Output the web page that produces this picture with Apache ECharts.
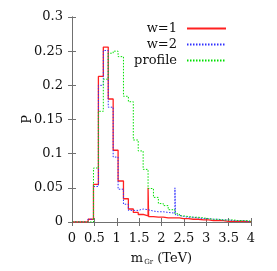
<!DOCTYPE html>
<html><head><meta charset="utf-8">
<script src="https://cdn.jsdelivr.net/npm/echarts@6/dist/echarts.min.js"></script>
<style>html,body{margin:0;padding:0;background:#fff}#c{width:277px;height:271px}</style>
</head><body><div id="c"></div>
<script>
// bin edges (TeV)
const binEdges = [0, 0.36, 0.48, 0.59, 0.70, 0.81, 0.92, 1.03, 1.15, 1.26, 1.37, 1.48, 1.59, 1.70, 1.82, 1.93, 2.04, 2.15, 2.30, 2.40, 2.49, 2.60, 2.71, 2.82, 2.94, 3.05, 3.16, 3.27, 3.38, 3.50, 3.61, 3.72, 3.83, 3.94, 4.0];
const w1Vals = [0, 0.004, 0.055, 0.213, 0.256, 0.180, 0.105, 0.060, 0.034, 0.019, 0.014, 0.011, 0.009, 0.008, 0.007, 0.007, 0.006, 0.006, 0.006, 0.005, 0.005, 0.004, 0.004, 0.003, 0.003, 0.002, 0.002, 0.002, 0.001, 0.001, 0.001, 0.001, 0.0005, 0.0005];
const w2Vals = [0, 0.004, 0.052, 0.200, 0.251, 0.168, 0.095, 0.048, 0.026, 0.017, 0.017, 0.019, 0.018, 0.016, 0.015, 0.015, 0.014, 0.013, 0.010, 0.008, 0.007, 0.007, 0.006, 0.005, 0.005, 0.004, 0.004, 0.003, 0.003, 0.002, 0.002, 0.002, 0.001, 0.001];
const profileVals = [0, 0, 0.079, 0.162, 0.209, 0.247, 0.250, 0.242, 0.184, 0.176, 0.120, 0.104, 0.077, 0.049, 0.036, 0.027, 0.024, 0.018, 0.012, 0.009, 0.008, 0.007, 0.007, 0.006, 0.005, 0.004, 0.004, 0.003, 0.003, 0.003, 0.002, 0.002, 0.002, 0.001];
// narrow spikes: [x (TeV), height]
const w1Spike = [1.70, 0.050];
const w2Spike = [2.30, 0.050];
const xTicks = [0, 0.5, 1, 1.5, 2, 2.5, 3, 3.5, 4];
const yTicks = [0, 0.05, 0.1, 0.15, 0.2, 0.25, 0.3];

function hist(edges, vals, spike) {
  const pts = [];
  for (let i = 0; i < vals.length; i++) {
    let x0 = edges[i];
    if (spike && Math.abs(edges[i] - spike[0]) < 1e-9 && i > 0) {
      pts.push([x0, spike[1]]);
      x0 = x0 + 0.012;
      pts.push([x0, spike[1]]);
    }
    pts.push([x0, vals[i]]);
    pts.push([edges[i + 1], vals[i]]);
  }
  return pts;
}

const FF = 'DejaVu Serif';
const axCol = '#707070';
const txtCol = '#111';
const chart = echarts.init(document.getElementById('c'), null, {renderer: 'canvas'});
const baseX = {
  type: 'value', min: xTicks[0], max: xTicks[xTicks.length - 1], interval: 0.5,
  axisLine: {lineStyle: {color: axCol, width: 1}},
  axisTick: {inside: true, length: 4, lineStyle: {color: axCol}},
  splitLine: {show: false}
};
const baseY = {
  type: 'value', min: yTicks[0], max: yTicks[yTicks.length - 1], interval: 0.05,
  axisLine: {show: true, lineStyle: {color: axCol, width: 1}},
  axisTick: {show: true, inside: true, length: 4, lineStyle: {color: axCol}},
  splitLine: {show: false}
};
chart.setOption({
  animation: false,
  grid: {left: 72, right: 26, top: 17, bottom: 46},
  legend: {
    orient: 'vertical', right: 45, top: 17, align: 'right',
    itemWidth: 39, itemHeight: 10, itemGap: 3,
    itemStyle: {opacity: 0},
    data: ['w=1', 'w=2', 'profile'],
    textStyle: {fontFamily: FF, fontSize: 13, color: txtCol, padding: [0, 5, 0, 0]}
  },
  xAxis: [
    Object.assign({}, baseX, {
      position: 'bottom',
      axisLabel: {margin: 10, color: txtCol, fontFamily: FF, fontSize: 13},
      name: '{a|m}{s|Gr}{a| (TeV)}', nameLocation: 'middle', nameGap: 30,
      nameMoveOverlap: false,
      nameTextStyle: {rich: {
        a: {fontFamily: FF, fontSize: 13, color: txtCol},
        s: {fontFamily: FF, fontSize: 7, color: txtCol, padding: [7, 0, 0, 1]}
      }}
    }),
    Object.assign({}, baseX, {position: 'top', axisLabel: {show: false}})
  ],
  yAxis: [
    Object.assign({}, baseY, {
      position: 'left',
      axisLabel: {margin: 9, color: txtCol, fontFamily: FF, fontSize: 13},
      name: 'P', nameLocation: 'middle', nameGap: 38,
      nameMoveOverlap: false,
      nameTextStyle: {fontFamily: FF, fontSize: 13, color: txtCol}
    }),
    Object.assign({}, baseY, {position: 'right', axisLabel: {show: false}})
  ],
  series: [
    {name: 'w=1', type: 'line', data: hist(binEdges, w1Vals, w1Spike), symbol: 'none',
     lineStyle: {color: '#ff2020', width: 1.3}, itemStyle: {color: '#ff2020'}},
    {name: 'w=2', type: 'line', data: hist(binEdges, w2Vals, w2Spike), symbol: 'none',
     lineStyle: {color: '#3030ff', width: 1, type: [1.5, 1.5]}, itemStyle: {color: '#3030ff'}},
    {name: 'profile', type: 'line', data: hist(binEdges, profileVals, null), symbol: 'none',
     lineStyle: {color: '#00e000', width: 1, type: [1.5, 1.5]}, itemStyle: {color: '#00e000'}}
  ]
});
</script></body></html>
